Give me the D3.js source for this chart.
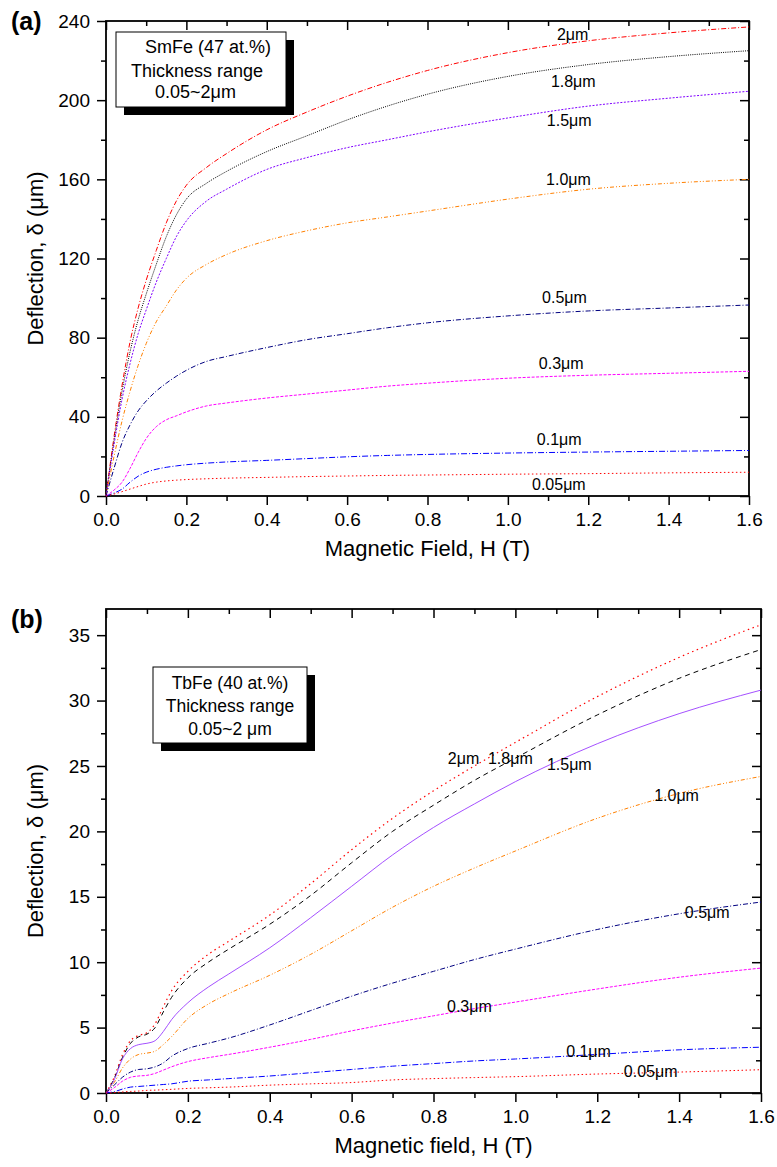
<!DOCTYPE html>
<html>
<head>
<meta charset="utf-8">
<script src="https://cdn.jsdelivr.net/npm/d3@7"></script>
<style>
body { margin: 0; background: #fff; }
svg text { font-family: "Liberation Sans", Arial, Helvetica, sans-serif; fill: #000; }
</style>
</head>
<body>
<script>
// thickness labels (same for both panels)
var thickLabels = ["2\u03bcm", "1.8\u03bcm", "1.5\u03bcm", "1.0\u03bcm", "0.5\u03bcm", "0.3\u03bcm", "0.1\u03bcm", "0.05\u03bcm"];

// panel (a) SmFe, field in T, deflection in um
var fieldA = [0, 0.02, 0.04, 0.06, 0.08, 0.1, 0.125, 0.15, 0.175, 0.2, 0.25, 0.3, 0.4, 0.5, 0.6, 0.7, 0.8, 1.0, 1.2, 1.4, 1.6];
var smfe_2   = [0, 30, 56, 78, 95, 109, 124, 138, 149, 157, 166, 173, 185, 194, 202, 209, 215, 224, 230, 234, 237];
var smfe_18  = [0, 28, 53, 73, 89, 102, 117, 131, 142, 150, 158, 164, 174, 182, 190, 197, 203, 212, 218, 222, 225];
var smfe_15  = [0, 26, 49, 67, 82, 94, 108, 120, 131, 139, 149, 155, 165, 171, 176, 180, 184, 191, 197, 201, 204.5];
var smfe_10  = [0, 20, 38, 53, 66, 77, 88, 96, 104, 110, 117, 122, 129, 134, 138, 141, 144, 150, 155, 158, 160];
var smfe_05  = [0, 14, 27, 36, 43, 48, 53, 57, 60.5, 63.5, 68, 70.5, 75, 79, 82, 85, 87.5, 91, 93.5, 95, 96.5];
var smfe_03  = [0, 3, 7, 14, 22, 29, 35, 38.5, 40.5, 42.5, 45.5, 47, 49.5, 51.5, 53.5, 55.5, 57, 59.5, 61, 62, 63];
var smfe_01  = [0, 1.5, 3.5, 7, 10, 12, 13.5, 14.5, 15.2, 15.8, 16.6, 17.2, 18, 18.9, 19.8, 20.5, 21, 21.7, 22.2, 22.6, 23];
var smfe_005 = [0, 1, 2.2, 3.5, 4.8, 6, 7, 7.6, 8, 8.3, 8.7, 9, 9.4, 9.8, 10.1, 10.4, 10.6, 11, 11.3, 11.7, 12];

// panel (b) TbFe
var fieldB = [0, 0.02, 0.04, 0.06, 0.08, 0.1, 0.12, 0.14, 0.16, 0.2, 0.25, 0.3, 0.4, 0.5, 0.6, 0.7, 0.8, 0.9, 1.0, 1.2, 1.4, 1.6];
var tbfe_2   = [0, 1.2, 2.9, 4.0, 4.4, 4.6, 5.3, 6.6, 7.8, 9.3, 10.6, 11.6, 13.6, 16.0, 18.6, 21.0, 23.1, 25.0, 26.8, 30.3, 33.3, 35.8];
var tbfe_18  = [0, 1.1, 2.7, 3.8, 4.3, 4.5, 5.0, 6.2, 7.3, 8.8, 10.0, 11.0, 12.9, 15.1, 17.6, 20.0, 22.0, 23.9, 25.6, 28.9, 31.7, 33.9];
var tbfe_15  = [0, 1.0, 2.6, 3.4, 3.7, 3.8, 4.0, 4.7, 5.6, 6.9, 8.1, 9.1, 11.1, 13.4, 15.8, 18.2, 20.3, 22.1, 23.8, 26.7, 29.0, 30.8];
var tbfe_10  = [0, 0.8, 1.9, 2.6, 2.95, 3.05, 3.2, 3.7, 4.3, 5.7, 6.8, 7.6, 9.0, 10.6, 12.4, 14.2, 15.8, 17.2, 18.5, 21.0, 22.9, 24.2];
var tbfe_05  = [0, 0.6, 1.2, 1.6, 1.8, 1.85, 2.0, 2.3, 2.8, 3.4, 3.8, 4.2, 5.2, 6.3, 7.4, 8.4, 9.3, 10.2, 11.0, 12.5, 13.7, 14.6];
var tbfe_03  = [0, 0.4, 0.9, 1.2, 1.3, 1.35, 1.5, 1.75, 2.0, 2.4, 2.7, 2.95, 3.5, 4.1, 4.75, 5.35, 5.9, 6.45, 6.95, 7.95, 8.85, 9.55];
var tbfe_01  = [0, 0.1, 0.3, 0.45, 0.5, 0.55, 0.6, 0.65, 0.7, 0.9, 1.0, 1.1, 1.3, 1.55, 1.8, 2.05, 2.25, 2.45, 2.6, 2.95, 3.3, 3.5];
var tbfe_005 = [0, 0.03, 0.08, 0.12, 0.15, 0.2, 0.22, 0.25, 0.28, 0.35, 0.4, 0.45, 0.6, 0.7, 0.8, 1.0, 1.1, 1.18, 1.25, 1.45, 1.6, 1.78];

// ticks
var xTicks = [0, 0.2, 0.4, 0.6, 0.8, 1.0, 1.2, 1.4, 1.6];
var xMinor = [0.1, 0.3, 0.5, 0.7, 0.9, 1.1, 1.3, 1.5];
var yTicksA = [0, 40, 80, 120, 160, 200, 240];
var yMinorA = [20, 60, 100, 140, 180, 220];
var yTicksB = [0, 5, 10, 15, 20, 25, 30, 35];
var yMinorB = [2.5, 7.5, 12.5, 17.5, 22.5, 27.5, 32.5];

var W = 777, H = 1167;
var svg = d3.select("body").append("svg")
    .attr("width", W)
    .attr("height", H);

function buildPanel(p) {
  var x = d3.scaleLinear().domain([0, 1.6]).range([p.left, p.right]);
  var y = d3.scaleLinear().domain([0, p.yMax]).range([p.bottom, p.top]);
  var g = svg.append("g");
  var fmtX = d3.format(".1f");

  function styleAxis(sel, fs) {
    sel.selectAll("line").attr("stroke", "#000").attr("stroke-width", 1.5);
    sel.select(".domain").remove();
    sel.selectAll("text")
      .attr("font-family", '"Liberation Sans", Arial, sans-serif')
      .attr("font-size", fs).attr("fill", "#000");
  }

  // bottom + left, outward ticks with labels
  g.append("g").attr("transform", "translate(0," + p.bottom + ")")
    .call(d3.axisBottom(x).tickValues(xTicks).tickSize(9).tickPadding(8).tickFormat(fmtX))
    .call(styleAxis, 19);
  g.append("g").attr("transform", "translate(0," + p.bottom + ")")
    .call(d3.axisBottom(x).tickValues(xMinor).tickSize(5).tickFormat(""))
    .call(styleAxis, 19);
  g.append("g").attr("transform", "translate(" + p.left + ",0)")
    .call(d3.axisLeft(y).tickValues(p.yTicks).tickSize(9).tickPadding(7).tickFormat(d3.format("d")))
    .call(styleAxis, 19);
  g.append("g").attr("transform", "translate(" + p.left + ",0)")
    .call(d3.axisLeft(y).tickValues(p.yMinor).tickSize(5).tickFormat(""))
    .call(styleAxis, 19);

  // top + right, ticks pointing inside
  g.append("g").attr("transform", "translate(0," + p.top + ")")
    .call(d3.axisBottom(x).tickValues(xTicks).tickSize(9).tickFormat(""))
    .call(styleAxis, 19);
  g.append("g").attr("transform", "translate(0," + p.top + ")")
    .call(d3.axisBottom(x).tickValues(xMinor).tickSize(5).tickFormat(""))
    .call(styleAxis, 19);
  g.append("g").attr("transform", "translate(" + p.right + ",0)")
    .call(d3.axisLeft(y).tickValues(p.yTicks).tickSize(9).tickFormat(""))
    .call(styleAxis, 19);
  g.append("g").attr("transform", "translate(" + p.right + ",0)")
    .call(d3.axisLeft(y).tickValues(p.yMinor).tickSize(5).tickFormat(""))
    .call(styleAxis, 19);

  // frame
  g.append("rect")
    .attr("x", p.left).attr("y", p.top)
    .attr("width", p.right - p.left).attr("height", p.bottom - p.top)
    .attr("fill", "none").attr("stroke", "#000").attr("stroke-width", 1.8);

  // curves
  var line = d3.line()
    .x(function(d) { return x(d[0]); })
    .y(function(d) { return y(d[1]); })
    .curve(d3.curveMonotoneX);

  for (var i = 0; i < p.series.length; i++) {
    var pts = p.field.map(function(h, j) { return [h, p.series[i][j]]; });
    g.append("path")
      .datum(pts)
      .attr("d", line)
      .attr("fill", "none")
      .attr("stroke", p.colors[i])
      .attr("stroke-width", p.widths[i])
      .attr("stroke-dasharray", p.dashes[i]);
  }

  // curve labels, anchored in data units
  for (var k = 0; k < thickLabels.length; k++) {
    g.append("text")
      .attr("x", x(p.labelPos[k][0]))
      .attr("y", y(p.labelPos[k][1]))
      .attr("font-size", 16)
      .text(thickLabels[k]);
  }

  // legend box with drop shadow
  var b = p.box;
  g.append("rect").attr("x", b.x + 8).attr("y", b.y + 8).attr("width", b.w).attr("height", b.h).attr("fill", "#000");
  g.append("rect").attr("x", b.x).attr("y", b.y).attr("width", b.w).attr("height", b.h)
    .attr("fill", "#fff").attr("stroke", "#000").attr("stroke-width", 1);
  b.lines.forEach(function(l) {
    g.append("text").attr("x", l[1]).attr("y", l[2])
      .attr("font-size", b.fs).attr("text-anchor", l[3] || "start").text(l[0]);
  });

  // axis titles
  g.append("text")
    .attr("x", (p.left + p.right) / 2).attr("y", p.bottom + 60)
    .attr("text-anchor", "middle").attr("font-size", 22)
    .text(p.xTitle);
  g.append("text")
    .attr("transform", "translate(43," + ((p.top + p.bottom) / 2) + ") rotate(-90)")
    .attr("text-anchor", "middle").attr("font-size", 22)
    .text("Deflection, \u03b4 (\u03bcm)");

  // panel letter
  g.append("text").attr("x", 11).attr("y", p.letterY)
    .attr("font-size", 25).attr("font-weight", "bold").text(p.letter);
}

buildPanel({
  left: 106, right: 749, top: 21, bottom: 496, yMax: 240,
  yTicks: yTicksA, yMinor: yMinorA,
  field: fieldA,
  series: [smfe_2, smfe_18, smfe_15, smfe_10, smfe_05, smfe_03, smfe_01, smfe_005],
  colors: ["#ff0000", "#000000", "#8000ff", "#ff8000", "#000080", "#ff00ff", "#0000ff", "#ff0000"],
  widths: [1, 1, 1, 1, 1, 1, 1, 1],
  dashes: ["5,2,1,2", "1,1.2", "2,1.5", "4,2,1,2,1,2", "5,2,1,2", "3,1.5", "6,2,1,2", "1.5,2.5"],
  labelPos: [[1.122, 230.4], [1.107, 206.7], [1.097, 187], [1.095, 157], [1.085, 97.5], [1.077, 64.2], [1.072, 25.8], [1.06, 3.0]],
  box: { x: 116, y: 32, w: 170, h: 75, fs: 18,
         lines: [["SmFe (47 at.%)", 145, 53], ["Thickness range", 131, 77], ["0.05~2\u03bcm", 155, 98]] },
  xTitle: "Magnetic Field, H (T)",
  letter: "(a)", letterY: 30
});

buildPanel({
  left: 106, right: 761, top: 609, bottom: 1093, yMax: 37,
  yTicks: yTicksB, yMinor: yMinorB,
  field: fieldB,
  series: [tbfe_2, tbfe_18, tbfe_15, tbfe_10, tbfe_05, tbfe_03, tbfe_01, tbfe_005],
  colors: ["#ff0000", "#000000", "#9a3cff", "#ff8000", "#000080", "#ff00ff", "#0000ff", "#ff0000"],
  widths: [1.2, 1, 0.9, 1, 1, 1, 1, 1],
  dashes: ["1.5,3.5", "5,4", null, "4,2,1,2,1,2", "5,2,1,2", "3,1.5", "6,2,1,2", "1.5,2.5"],
  labelPos: [[0.835, 25.15], [0.933, 25.15], [1.077, 24.7], [1.339, 22.3], [1.414, 13.4], [0.833, 6.19], [1.124, 2.75], [1.265, 1.22]],
  box: { x: 153, y: 667, w: 154, h: 76, fs: 17.5,
         lines: [["TbFe (40 at.%)", 230, 689, "middle"], ["Thickness range", 230, 712, "middle"], ["0.05~2 \u03bcm", 230, 735, "middle"]] },
  xTitle: "Magnetic field, H (T)",
  letter: "(b)", letterY: 628
});
</script>
</body>
</html>
